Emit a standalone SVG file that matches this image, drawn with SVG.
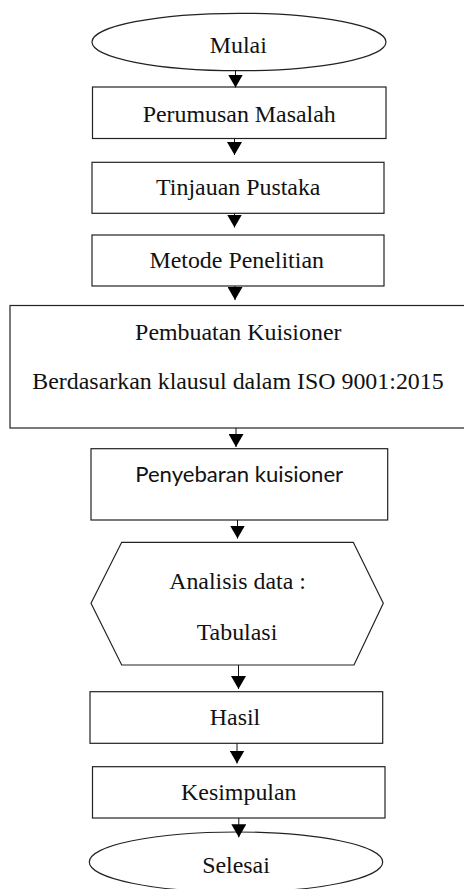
<svg xmlns="http://www.w3.org/2000/svg" width="464" height="889" viewBox="0 0 464 889">
<style>
.box{fill:#fff;stroke:#222;stroke-width:1.2}
.t{font-family:"Liberation Serif","Times New Roman",serif;font-size:23.9px;fill:#111;text-anchor:middle}
.s{font-family:Lato,"Open Sans","Liberation Sans",sans-serif;font-size:22px;fill:#111;text-anchor:middle}
.c{stroke:#111;stroke-width:1;fill:none;marker-end:url(#ah)}
</style>
<defs>
<marker id="ah" markerUnits="userSpaceOnUse" viewBox="0 0 13 15" refX="13" refY="7.5" markerWidth="13" markerHeight="15" orient="auto">
<path d="M0,0 L13,7.5 L0,15 z" fill="#000"/>
</marker>
</defs>
<rect width="464" height="889" fill="#fff"/>
<g id="mulai">
<ellipse class="box" cx="239" cy="42" rx="147" ry="28.7"/>
<text class="t" x="238.3" y="53.3">Mulai</text>
</g>
<g id="perumusan">
<rect class="box" x="92.5" y="87" width="293.5" height="51.5"/>
<text class="t" x="239.2" y="121.7">Perumusan Masalah</text>
</g>
<g id="tinjauan">
<rect class="box" x="92" y="162.3" width="292" height="51"/>
<text class="t" x="238.3" y="195">Tinjauan Pustaka</text>
</g>
<g id="metode">
<rect class="box" x="92" y="235" width="292" height="51"/>
<text class="t" x="236.7" y="268.3">Metode Penelitian</text>
</g>
<g id="pembuatan">
<rect class="box" x="10" y="305.5" width="470" height="122.5"/>
<text class="t" x="238.3" y="340">Pembuatan Kuisioner</text>
<text class="t" x="238" y="389.3">Berdasarkan klausul dalam ISO 9001:2015</text>
</g>
<g id="penyebaran">
<rect class="box" x="91" y="448.7" width="296.7" height="71.3"/>
<text class="s" x="239.2" y="481.7" textLength="208" lengthAdjust="spacingAndGlyphs">Penyebaran kuisioner</text>
</g>
<g id="analisis">
<polygon class="box" points="121.7,542.3 353.3,542.3 383.3,603.3 354,665 121.7,665 91,603.3"/>
<text class="t" x="237.5" y="589">Analisis data :</text>
<text class="t" x="237" y="640">Tabulasi</text>
</g>
<g id="hasil">
<rect class="box" x="90" y="691.7" width="292.7" height="51.6"/>
<text class="t" x="235" y="725">Hasil</text>
</g>
<g id="kesimpulan">
<rect class="box" x="92.5" y="766.7" width="292.5" height="51.3"/>
<text class="t" x="238.8" y="800">Kesimpulan</text>
</g>
<g id="selesai">
<ellipse class="box" cx="236" cy="862" rx="146.7" ry="30"/>
<text class="t" x="236" y="873.3">Selesai</text>
</g>
<g id="connectors">
<line class="c" x1="235.5" y1="70.7" x2="235.5" y2="87.5"/>
<line class="c" x1="234.5" y1="138.5" x2="234.5" y2="155"/>
<line class="c" x1="234.5" y1="213.3" x2="234.5" y2="227.5"/>
<line class="c" x1="235" y1="286" x2="235" y2="300"/>
<line class="c" x1="236" y1="428" x2="236" y2="447"/>
<line class="c" x1="237.5" y1="520" x2="237.5" y2="538.5"/>
<line class="c" x1="238.5" y1="665" x2="238.5" y2="689"/>
<line class="c" x1="237" y1="743.3" x2="237" y2="763.5"/>
<line class="c" x1="238.8" y1="818" x2="238.8" y2="837.3"/>
</g>
</svg>
